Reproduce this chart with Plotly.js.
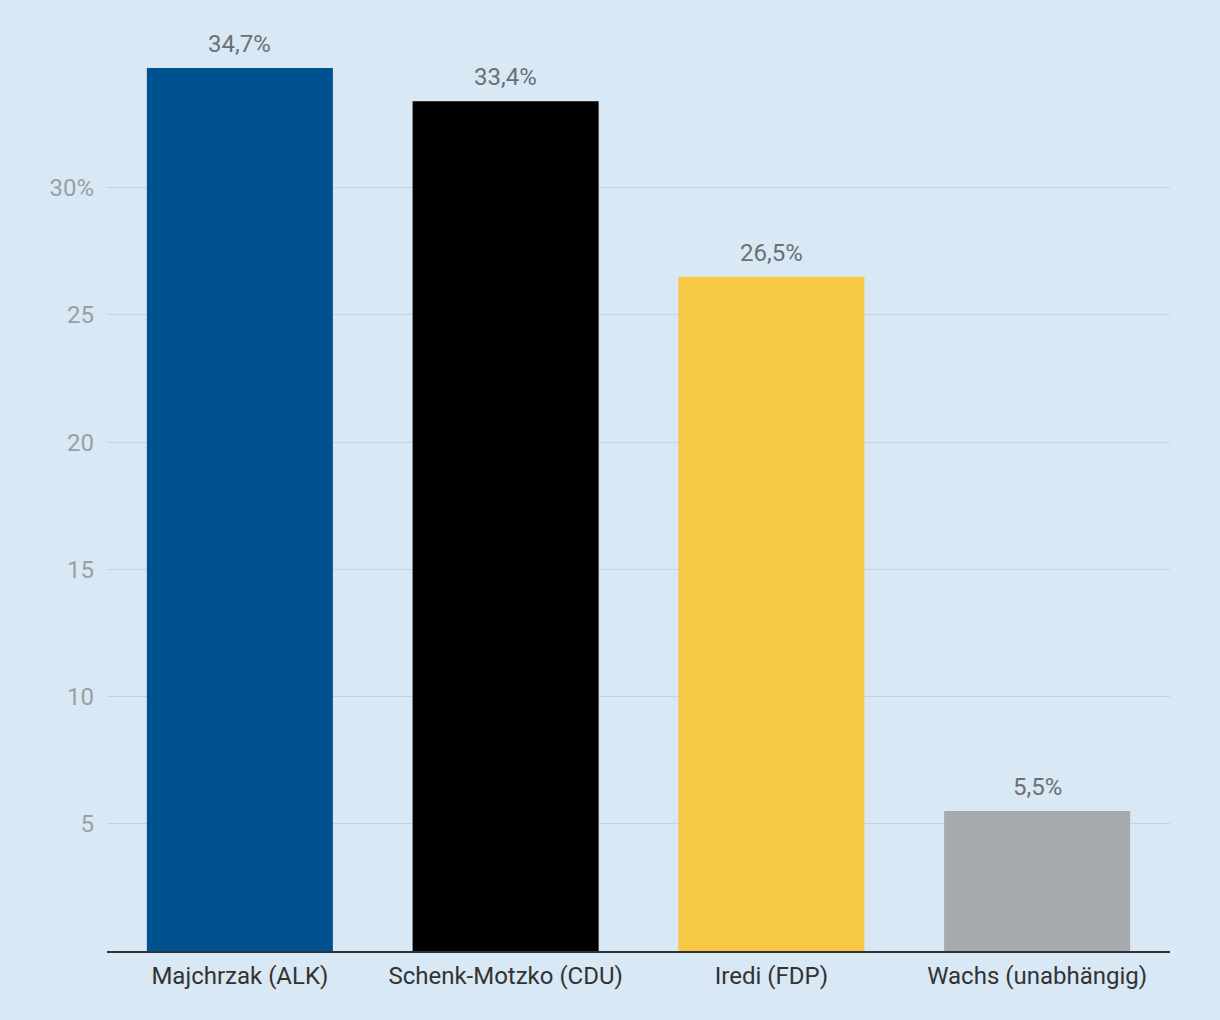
<!DOCTYPE html>
<html>
<head>
<meta charset="utf-8">
<script src="https://cdn.plot.ly/plotly-3.0.1.min.js"></script>
<style>
  html, body { margin: 0; padding: 0; background: #d8e8f4; }
  #chart { width: 1220px; height: 1020px; }
</style>
</head>
<body>
<div id="chart"></div>
<script>
// Chart data
const candidates = ['Majchrzak (ALK)', 'Schenk-Motzko (CDU)', 'Iredi (FDP)', 'Wachs (unabhängig)'];
const shares = [34.7, 33.4, 26.5, 5.5];
const barColors = ['#00518f', '#000000', '#f7c844', '#a6aaae'];
const tickValues = [5, 10, 15, 20, 25, 30];
const tickLabels = ['5', '10', '15', '20', '25', '30%'];

const trace = {
    x: candidates,
    y: shares,
    type: 'bar',
    marker: { color: barColors },
    hoverinfo: 'none'
};

// Value labels above the bars
const labels = candidates.map((c, i) => ({
    x: c,
    y: shares[i],
    xref: 'x',
    yref: 'y',
    text: shares[i].toFixed(1).replace('.', ',') + '%',
    showarrow: false,
    yanchor: 'bottom',
    yshift: 8,
    font: { family: 'Roboto, sans-serif', size: 24, color: '#6b7075' }
}));

const layout = {
    width: 1220,
    height: 1020,
    margin: { l: 107, r: 50, t: 35, b: 69 },
    paper_bgcolor: '#d8e8f4',
    plot_bgcolor: '#d8e8f4',
    font: { family: 'Roboto, sans-serif' },
    bargap: 0.3,
    showlegend: false,
    annotations: labels,
    xaxis: {
        showgrid: false,
        showline: true,
        linecolor: '#333333',
        linewidth: 2,
        ticks: '',
        ticklabelstandoff: 2,
        tickfont: { size: 24, color: '#333333' },
        fixedrange: true
    },
    yaxis: {
        range: [0, 36],
        tickvals: tickValues,
        ticktext: tickLabels,
        showgrid: true,
        gridcolor: '#c3d3e0',
        gridwidth: 1,
        zeroline: false,
        showline: false,
        ticks: '',
        ticklabelstandoff: 12,
        tickfont: { size: 24, color: '#9a9fa5' },
        fixedrange: true
    }
};

Plotly.newPlot('chart', [trace], layout, { displayModeBar: false, staticPlot: true });
</script>
</body>
</html>
